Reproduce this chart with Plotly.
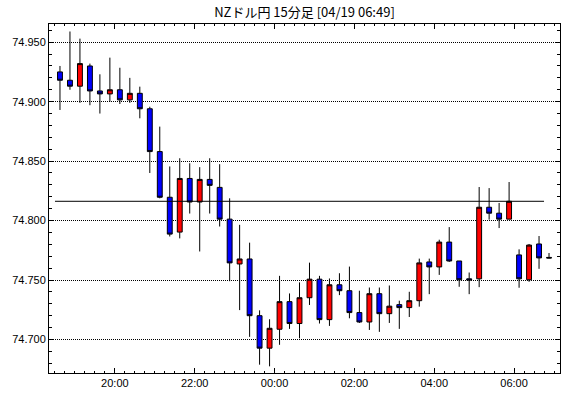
import pandas as pd
import plotly.graph_objects as go

# ---- data (15-minute candles, interval start times) ----
start_time = "2024-04-18 18:30"
n_candles = 50
opens = [74.925, 74.918, 74.913, 74.930, 74.909, 74.9065, 74.910, 74.9015, 74.907, 74.894,
         74.858, 74.8196, 74.7903, 74.8354, 74.8156, 74.8346, 74.8279, 74.8012, 74.7635, 74.7677,
         74.720, 74.6927, 74.7086, 74.7318, 74.7134, 74.7351, 74.7507, 74.7167, 74.746, 74.741,
         74.7226, 74.7147, 74.7385, 74.7217, 74.7293, 74.7268, 74.7326, 74.7652, 74.761, 74.7819,
         74.766, 74.751, 74.751, 74.8112, 74.8062, 74.8012, 74.7711, 74.7502, 74.7803, 74.769]
highs = [74.930, 74.959, 74.953, 74.932, 74.923, 74.937, 74.9285, 74.920, 74.9126, 74.8957,
         74.879, 74.8455, 74.8524, 74.8482, 74.8449, 74.8524, 74.8474, 74.8187, 74.7964, 74.7814,
         74.7245, 74.717, 74.7535, 74.7387, 74.748, 74.7646, 74.7535, 74.7513, 74.7557, 74.7613,
         74.741, 74.7437, 74.7437, 74.7454, 74.7326, 74.7401, 74.768, 74.768, 74.7839, 74.7945,
         74.766, 74.7563, 74.8282, 74.8273, 74.8148, 74.8324, 74.7758, 74.7803, 74.787, 74.7727]
lows = [74.893, 74.910, 74.899, 74.897, 74.890, 74.900, 74.898, 74.899, 74.886, 74.840,
        74.8187, 74.7866, 74.785, 74.8059, 74.774, 74.8059, 74.795, 74.749, 74.7247, 74.7022,
        74.6788, 74.6774, 74.6955, 74.7089, 74.701, 74.729, 74.7134, 74.7114, 74.7373, 74.7178,
        74.7139, 74.708, 74.7064, 74.7139, 74.7089, 74.7189, 74.7276, 74.7381, 74.7543, 74.7652,
        74.7443, 74.7381, 74.744, 74.8008, 74.7937, 74.8012, 74.7435, 74.7485, 74.7594, 74.7682]
closes = [74.918, 74.913, 74.932, 74.909, 74.9065, 74.910, 74.9015, 74.907, 74.894, 74.858,
          74.8196, 74.7886, 74.8354, 74.8156, 74.8346, 74.8296, 74.8012, 74.7644, 74.7677, 74.720,
          74.6927, 74.7094, 74.7318, 74.7134, 74.7351, 74.7507, 74.7167, 74.746, 74.741, 74.7226,
          74.7147, 74.7385, 74.7217, 74.728, 74.7268, 74.7326, 74.7644, 74.761, 74.7819, 74.766,
          74.7502, 74.750, 74.8112, 74.8062, 74.8012, 74.8162, 74.751, 74.7794, 74.7686, 74.7685]
ref_level = 74.8162
y_ticks = [74.700, 74.750, 74.800, 74.850, 74.900, 74.950]
title_text = "NZドル円 15分足 [04/19 06:49]"

times = pd.date_range(start_time, periods=n_candles, freq="15min")
centers = times + pd.Timedelta(minutes=7.5)

fig = go.Figure()
fig.add_trace(go.Candlestick(
    x=centers, open=opens, high=highs, low=lows, close=closes,
    increasing=dict(line=dict(color="black", width=1), fillcolor="#ff0000"),
    decreasing=dict(line=dict(color="black", width=1), fillcolor="#0000ff"),
    whiskerwidth=0, hoverinfo="skip", showlegend=False,
))

fig.add_shape(type="line", xref="x", yref="y",
              x0=times[0], x1=times[-1], y0=ref_level, y1=ref_level,
              line=dict(color="black", width=1))

fig.update_layout(
    width=570, height=398,
    margin=dict(l=49, r=9, t=24, b=23),
    paper_bgcolor="white", plot_bgcolor="white",
    font=dict(family="Liberation Sans, Arial, sans-serif", size=11, color="black"),
    title=dict(text=title_text, x=0.5, xref="paper", xanchor="center",
               y=1 - 12 / 398, yref="container", yanchor="middle",
               font=dict(family="Noto Sans CJK JP", size=13, color="black")),
    boxgap=0.3,
    xaxis=dict(
        type="date",
        range=[pd.Timestamp("2024-04-18 18:21"), pd.Timestamp("2024-04-19 07:09")],
        rangeslider=dict(visible=False),
        tick0="2024-04-18 00:00", dtick=2 * 3600 * 1000, tickformat="%H:%M",
        ticks="inside", ticklen=5, tickcolor="black", tickwidth=1,
        minor=dict(dtick=15 * 60 * 1000, tick0="2024-04-18 00:00", ticks="inside",
                   ticklen=2, tickcolor="black", showgrid=False),
        showline=True, linecolor="black", linewidth=1, mirror="ticks",
        showgrid=False, zeroline=False, fixedrange=True,
    ),
    yaxis=dict(
        range=[74.6718, 74.9653],
        tickvals=y_ticks, tickformat=".3f",
        ticks="inside", ticklen=5, tickcolor="black", tickwidth=1,
        minor=dict(dtick=0.01, tick0=74.70, ticks="inside", ticklen=3,
                   tickcolor="black", showgrid=False),
        showline=True, linecolor="black", linewidth=1, mirror="ticks",
        showgrid=True, gridcolor="black", gridwidth=1, griddash="1px,1px",
        zeroline=False, fixedrange=True,
    ),
)

fig.write_html("out.html")
